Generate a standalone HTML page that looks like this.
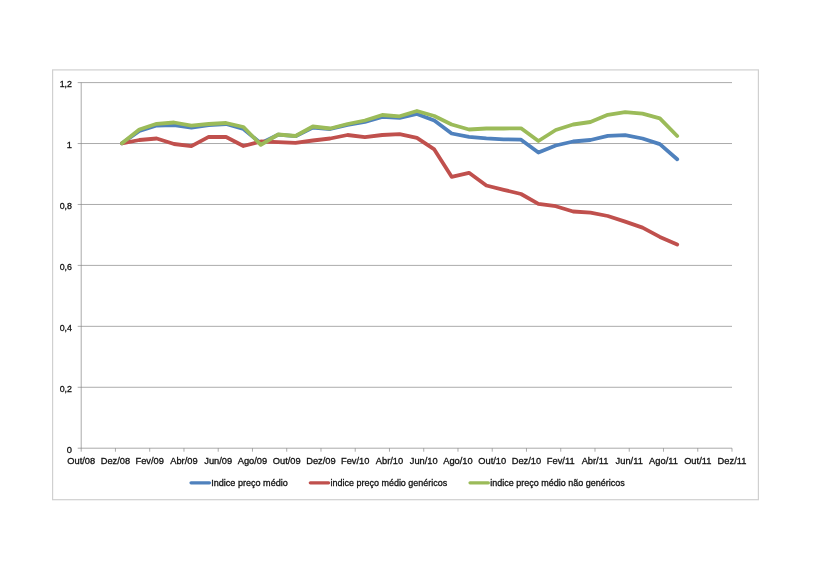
<!DOCTYPE html>
<html><head><meta charset="utf-8"><title>Chart</title>
<style>html,body{margin:0;padding:0;background:#fff;}svg{display:block;}text{font-family:"Liberation Sans",sans-serif;font-size:9.3px;fill:#111;stroke:#111;stroke-width:0.3px;}</style></head>
<body>
<svg width="820" height="579" viewBox="0 0 820 579">
<rect x="0" y="0" width="820" height="579" fill="#ffffff"/>
<rect x="52.6" y="69.9" width="705.8" height="429.8" fill="#fff" stroke="#d0d0d0" stroke-width="1.2"/>
<g stroke="#868686" stroke-width="0.7" fill="none">
<line x1="77.70" y1="82.60" x2="732.00" y2="82.60"/>
<line x1="77.70" y1="143.53" x2="732.00" y2="143.53"/>
<line x1="77.70" y1="204.47" x2="732.00" y2="204.47"/>
<line x1="77.70" y1="265.40" x2="732.00" y2="265.40"/>
<line x1="77.70" y1="326.33" x2="732.00" y2="326.33"/>
<line x1="77.70" y1="387.27" x2="732.00" y2="387.27"/>
<line x1="77.70" y1="448.20" x2="732.00" y2="448.20"/>
<line x1="81.20" y1="82.60" x2="81.20" y2="448.20"/>
<line x1="81.20" y1="448.20" x2="81.20" y2="451.70"/>
<line x1="115.45" y1="448.20" x2="115.45" y2="451.70"/>
<line x1="149.71" y1="448.20" x2="149.71" y2="451.70"/>
<line x1="183.96" y1="448.20" x2="183.96" y2="451.70"/>
<line x1="218.21" y1="448.20" x2="218.21" y2="451.70"/>
<line x1="252.46" y1="448.20" x2="252.46" y2="451.70"/>
<line x1="286.72" y1="448.20" x2="286.72" y2="451.70"/>
<line x1="320.97" y1="448.20" x2="320.97" y2="451.70"/>
<line x1="355.22" y1="448.20" x2="355.22" y2="451.70"/>
<line x1="389.47" y1="448.20" x2="389.47" y2="451.70"/>
<line x1="423.73" y1="448.20" x2="423.73" y2="451.70"/>
<line x1="457.98" y1="448.20" x2="457.98" y2="451.70"/>
<line x1="492.23" y1="448.20" x2="492.23" y2="451.70"/>
<line x1="526.48" y1="448.20" x2="526.48" y2="451.70"/>
<line x1="560.74" y1="448.20" x2="560.74" y2="451.70"/>
<line x1="594.99" y1="448.20" x2="594.99" y2="451.70"/>
<line x1="629.24" y1="448.20" x2="629.24" y2="451.70"/>
<line x1="663.49" y1="448.20" x2="663.49" y2="451.70"/>
<line x1="697.75" y1="448.20" x2="697.75" y2="451.70"/>
<line x1="732.00" y1="448.20" x2="732.00" y2="451.70"/>
</g>
<g fill="none" stroke-width="3.8" stroke-linejoin="round" stroke-linecap="round">
<polyline stroke="#4f81bd" points="122.00,143.30 139.35,131.00 156.70,125.50 174.05,125.00 191.40,127.50 208.75,125.00 226.10,124.00 243.45,129.00 260.80,143.30 278.15,134.70 295.50,136.20 312.85,127.50 330.20,129.00 347.55,124.80 364.90,121.80 382.25,116.90 399.60,117.90 416.95,114.00 434.30,120.50 451.65,133.50 469.00,136.80 486.35,138.30 503.70,139.30 521.05,139.70 538.40,152.50 555.75,145.50 573.10,141.50 590.45,140.00 607.80,135.80 625.15,135.10 642.50,138.50 659.85,144.10 677.20,159.30"/>
<polyline stroke="#c0504d" points="122.00,143.30 139.35,140.00 156.70,138.50 174.05,144.00 191.40,146.20 208.75,136.80 226.10,137.00 243.45,146.00 260.80,141.50 278.15,142.20 295.50,142.80 312.85,140.50 330.20,138.50 347.55,135.00 364.90,137.20 382.25,135.00 399.60,134.20 416.95,137.90 434.30,149.40 451.65,176.80 469.00,172.80 486.35,185.50 503.70,189.80 521.05,194.00 538.40,203.90 555.75,206.20 573.10,211.50 590.45,212.70 607.80,216.00 625.15,221.60 642.50,227.60 659.85,236.90 677.20,244.50"/>
<polyline stroke="#9bbb59" points="122.00,143.30 139.35,129.50 156.70,123.80 174.05,122.50 191.40,125.70 208.75,124.00 226.10,123.00 243.45,127.00 260.80,144.80 278.15,134.50 295.50,136.00 312.85,126.50 330.20,128.50 347.55,124.00 364.90,120.50 382.25,115.00 399.60,116.30 416.95,111.00 434.30,116.00 451.65,124.50 469.00,129.50 486.35,128.50 503.70,128.50 521.05,128.30 538.40,141.00 555.75,130.00 573.10,124.50 590.45,122.00 607.80,114.80 625.15,112.10 642.50,113.70 659.85,118.40 677.20,136.00"/>
</g>
<g fill="none" stroke-width="3.2" stroke-linecap="round">
<line stroke="#4f81bd" x1="191" y1="482.8" x2="209.5" y2="482.8"/>
<line stroke="#c0504d" x1="310.3" y1="482.8" x2="328.6" y2="482.8"/>
<line stroke="#9bbb59" x1="470" y1="482.8" x2="488.4" y2="482.8"/>
</g>
<g style="filter:grayscale(1)">
<g text-anchor="end">
<text x="72.0" y="86.90" textLength="12.3" lengthAdjust="spacingAndGlyphs">1,2</text>
<text x="72.0" y="147.83">1</text>
<text x="72.0" y="208.77" textLength="12.3" lengthAdjust="spacingAndGlyphs">0,8</text>
<text x="72.0" y="269.70" textLength="12.3" lengthAdjust="spacingAndGlyphs">0,6</text>
<text x="72.0" y="330.63" textLength="12.3" lengthAdjust="spacingAndGlyphs">0,4</text>
<text x="72.0" y="391.57" textLength="12.3" lengthAdjust="spacingAndGlyphs">0,2</text>
<text x="72.0" y="452.50">0</text>
</g>
<g text-anchor="middle">
<text x="81.20" y="464.3">Out/08</text>
<text x="115.45" y="464.3">Dez/08</text>
<text x="149.71" y="464.3">Fev/09</text>
<text x="183.96" y="464.3">Abr/09</text>
<text x="218.21" y="464.3">Jun/09</text>
<text x="252.46" y="464.3">Ago/09</text>
<text x="286.72" y="464.3">Out/09</text>
<text x="320.97" y="464.3">Dez/09</text>
<text x="355.22" y="464.3">Fev/10</text>
<text x="389.47" y="464.3">Abr/10</text>
<text x="423.73" y="464.3">Jun/10</text>
<text x="457.98" y="464.3">Ago/10</text>
<text x="492.23" y="464.3">Out/10</text>
<text x="526.48" y="464.3">Dez/10</text>
<text x="560.74" y="464.3">Fev/11</text>
<text x="594.99" y="464.3">Abr/11</text>
<text x="629.24" y="464.3">Jun/11</text>
<text x="663.49" y="464.3">Ago/11</text>
<text x="697.75" y="464.3">Out/11</text>
<text x="732.00" y="464.3">Dez/11</text>
</g>
<text x="211.2" y="486.2" textLength="76.6" lengthAdjust="spacingAndGlyphs">Indice preço médio</text>
<text x="330.5" y="486.2" textLength="116.8" lengthAdjust="spacingAndGlyphs">indice preço médio genéricos</text>
<text x="490.2" y="486.2" textLength="134.6" lengthAdjust="spacingAndGlyphs">indice preço médio não genéricos</text>
</g>
</svg>
</body></html>
